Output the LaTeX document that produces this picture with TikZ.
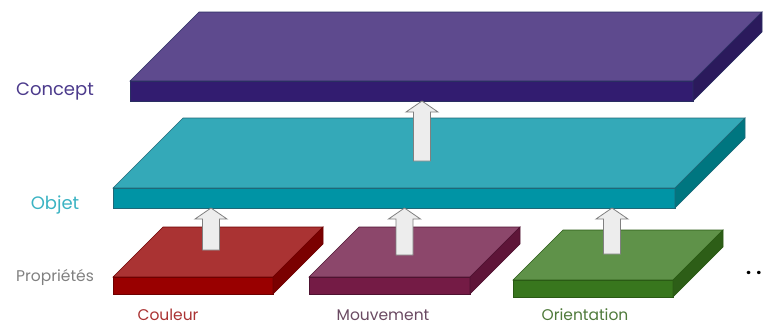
\documentclass[tikz,border=0pt]{standalone}
\usepackage{fontspec}
\setmainfont{Poppins}
\usetikzlibrary{calc}

\definecolor{conceptTop}{HTML}{5E4A8E}
\definecolor{conceptFront}{HTML}{321C70}
\definecolor{conceptSide}{HTML}{2B1A5C}
\definecolor{conceptLine}{HTML}{2A2E62}
\definecolor{conceptText}{HTML}{4C3B8C}
\definecolor{objetTop}{HTML}{34A9B8}
\definecolor{objetFront}{HTML}{0094A5}
\definecolor{objetSide}{HTML}{007680}
\definecolor{objetLine}{HTML}{1F6878}
\definecolor{objetText}{HTML}{3BB3C3}
\definecolor{couleurTop}{HTML}{AA3333}
\definecolor{couleurFront}{HTML}{990000}
\definecolor{couleurSide}{HTML}{7A0000}
\definecolor{couleurLine}{HTML}{6E0000}
\definecolor{mouvementTop}{HTML}{8C476B}
\definecolor{mouvementFront}{HTML}{741B45}
\definecolor{mouvementSide}{HTML}{5E1538}
\definecolor{mouvementLine}{HTML}{4E1230}
\definecolor{mouvementText}{HTML}{6A4A62}
\definecolor{orientationTop}{HTML}{5F9249}
\definecolor{orientationFront}{HTML}{38761D}
\definecolor{orientationSide}{HTML}{2D5E17}
\definecolor{orientationLine}{HTML}{2A5A14}
\definecolor{orientationText}{HTML}{4F7A3B}
\definecolor{liftFill}{HTML}{EDEDED}
\definecolor{liftLine}{HTML}{808080}

\tikzset{
		layer/.style = {font=\fontsize{18}{21}\selectfont},
		prop/.style  = {font=\fontsize{15.5}{18}\selectfont},
		lift/.style  = {draw=liftLine, fill=liftFill, line width=0.8pt},
		pics/slab/.style n args = {4}{code = {
				\filldraw[fill=#4Top, draw=#4Line, line width=0.6pt]
					(0,0) -- (#3,-#3) -- (#1+#3,-#3) -- (#1,0) -- cycle;
				\filldraw[fill=#4Front, draw=#4Line, line width=0.6pt] (0,0) rectangle (#1,#2);
				\filldraw[fill=#4Side, draw=#4Line, line width=0.6pt]
					(#1,0) -- (#1+#3,-#3) -- (#1+#3,#2-#3) -- (#1,#2) -- cycle;
				\coordinate (-fb) at (0,#2);
			}}
	}

% block arrow from a point on a slab up to the slab above
\newcommand{\lift}[2]{%
	\draw[lift] let \p1 = (#1), \p2 = (#1 |- #2) in
		(\x2,\y2) -- ({\x2+16pt},{\y2-11pt}) -- ({\x2+8.5pt},{\y2-11pt}) -- ({\x2+8.5pt},\y1)
		-- ({\x2-8.5pt},\y1) -- ({\x2-8.5pt},{\y2-11pt}) -- ({\x2-16pt},{\y2-11pt}) -- cycle;}

\begin{document}
\begin{tikzpicture}[x=1pt, y=-1pt]
	\useasboundingbox (0,0) rectangle (768,325);

	% levels
	\pic (concept) at (130,81) {slab={563}{20}{69}{concept}};
	\pic (objet) at (113,188) {slab={562}{20}{70}{objet}};
	\coordinate (objet-up) at (422,161);
	\lift{objet-up}{concept-fb}

	\pic (couleur) at (113,277) {slab={160}{17}{50}{couleur}};
	\pic (mouvement) at (309,277) {slab={161}{17}{50}{mouvement}};
	\pic (orientation) at (513,280) {slab={160}{17}{50}{orientation}};
	\coordinate (couleur-up) at (211,250);
	\coordinate (mouvement-up) at (404.5,255);
	\coordinate (orientation-up) at (612,254);
	\lift{couleur-up}{objet-fb}
	\lift{mouvement-up}{objet-fb}
	\lift{orientation-up}{objet-fb}

	% labels
	\node[layer, text=conceptText] (concept-label) at (55,91) {Concept};
	\node[layer, text=objetText] (objet-label) at (55,205) {Objet};
	\node[prop, text=liftLine] (prop-label) at (55,277) {Propriétés};
	\node[prop, text=couleurTop] (couleur-label) at (168,315) {Couleur};
	\node[prop, text=mouvementText] (mouvement-label) at (383,315) {Mouvement};
	\node[prop, text=orientationText] (orientation-label) at (585,315) {Orientation};
	\node[font=\fontsize{18}{20}\selectfont\bfseries, anchor=west, inner sep=0pt] (more) at (746,273) {.\kern5pt.};
\end{tikzpicture}
\end{document}
